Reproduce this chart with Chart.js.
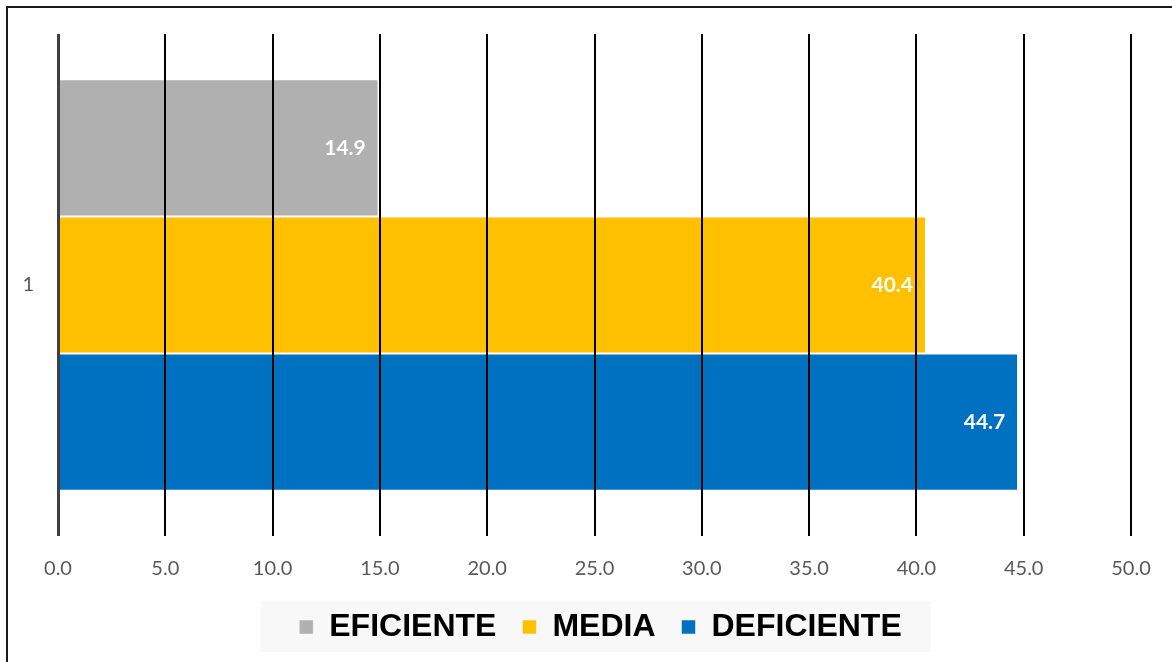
<!DOCTYPE html>
<html>
<head>
<meta charset="utf-8">
<script src="https://cdn.jsdelivr.net/npm/chart.js@4.4.0/dist/chart.umd.min.js"></script>
<style>
  html, body { margin: 0; padding: 0; background: #fff; }
  canvas { display: block; }
</style>
</head>
<body>
<canvas id="grafica" width="1172" height="662"></canvas>
<script>
// Datos
const categorias = ['1'];
const series = ['EFICIENTE', 'MEDIA', 'DEFICIENTE'];
const eficiente = [14.9];
const media = [40.4];
const deficiente = [44.7];
const colores = ['#B0B0B0', '#FFC000', '#0070C0'];
const ejeMin = 0, ejeMax = 50, ejePaso = 5;

// Desplaza la leyenda para centrarla como en el original
const moverLeyenda = {
  id: 'moverLeyenda',
  afterLayout(chart) {
    const dx = 35, dy = -1;
    const ley = chart.legend;
    ley.left += dx; ley.right += dx;
    ley.top += dy; ley.bottom += dy;
    (ley.legendHitBoxes || []).forEach(b => { b.left += dx; b.top += dy; });
  }
};

// Marco exterior y fondo de la leyenda
const fondoPlugin = {
  id: 'fondo',
  beforeDraw(chart) {
    const ctx = chart.ctx;
    ctx.save();
    ctx.strokeStyle = '#1a1a1a';
    ctx.lineWidth = 2;
    ctx.strokeRect(7, 7, 1300, 800);
    const cajas = chart.legend.legendHitBoxes;
    if (cajas && cajas.length) {
      const izq = cajas[0].left - 39;
      const ult = cajas[cajas.length - 1];
      const der = ult.left + ult.width + 29;
      const centro = cajas[0].top + cajas[0].height / 2;
      ctx.fillStyle = '#F8F8F8';
      ctx.fillRect(izq, centro - 25, der - izq, 51);
    }
    ctx.restore();
  }
};

// Etiquetas de valor dentro de las barras
const etiquetasPlugin = {
  id: 'etiquetas',
  afterDraw(chart) {
    const ctx = chart.ctx;
    ctx.save();
    ctx.font = 'bold 21px Lato';
    ctx.fillStyle = '#FFFFFF';
    ctx.textAlign = 'right';
    ctx.textBaseline = 'middle';
    chart.data.datasets.forEach((ds, i) => {
      chart.getDatasetMeta(i).data.forEach((bar, j) => {
        ctx.fillText(ds.data[j].toFixed(1), bar.x - 12, bar.y);
      });
    });
    ctx.restore();
  }
};

const ctx = document.getElementById('grafica').getContext('2d');
const grafica = new Chart(ctx, {
  type: 'bar',
  data: {
    labels: categorias,
    datasets: [
      { label: series[0], data: eficiente, backgroundColor: colores[0] },
      { label: series[1], data: media, backgroundColor: colores[1] },
      { label: series[2], data: deficiente, backgroundColor: colores[2] }
    ].map(ds => Object.assign(ds, {
      borderColor: '#FFFFFF',
      borderWidth: { top: 1, bottom: 1, left: 0, right: 0 },
      borderSkipped: false,
      categoryPercentage: 0.82,
      barPercentage: 1.0
    }))
  },
  options: {
    indexAxis: 'y',
    responsive: false,
    animation: false,
    layout: { padding: { left: 0, right: 41, top: 34, bottom: 8 } },
    scales: {
      x: {
        min: ejeMin,
        max: ejeMax,
        afterFit(scale) {
          scale.height = 50;
          scale.paddingLeft = 0;
          scale.paddingRight = 0;
        },
        ticks: {
          stepSize: ejePaso,
          padding: 21,
          color: '#595959',
          font: { family: 'Lato', size: 20 },
          callback: v => Number(v).toFixed(1)
        },
        grid: {
          z: 1,
          drawTicks: false,
          color: c => (c.tick && c.tick.value === 0 ? '#404040' : '#000000'),
          lineWidth: c => (c.tick && c.tick.value === 0 ? 3 : 2)
        },
        border: { display: false }
      },
      y: {
        afterFit(scale) {
          scale.width = 58;
          scale.paddingTop = 0;
          scale.paddingBottom = 0;
        },
        ticks: {
          padding: 24,
          color: '#595959',
          font: { family: 'Lato', size: 20 }
        },
        grid: { display: false, drawTicks: false },
        border: { display: false }
      }
    },
    plugins: {
      legend: {
        position: 'bottom',
        labels: {
          boxWidth: 14,
          boxHeight: 14,
          padding: 26,
          color: '#000000',
          font: { family: 'Liberation Sans', size: 32, weight: 'bold' }
        }
      },
      tooltip: { enabled: false }
    }
  },
  plugins: [moverLeyenda, fondoPlugin, etiquetasPlugin]
});
</script>
</body>
</html>
